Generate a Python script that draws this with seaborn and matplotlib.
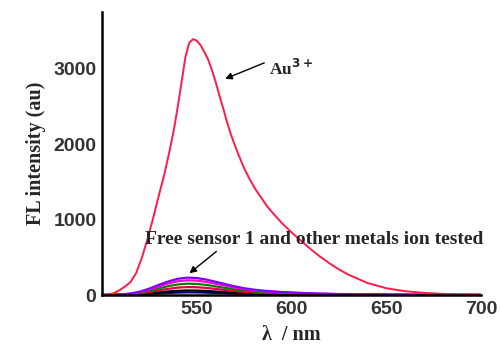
import matplotlib
matplotlib.use("Agg")
import matplotlib.pyplot as plt
import seaborn as sns
import pandas as pd
from matplotlib.ticker import MultipleLocator

# Au3+ spectrum (finer sampling around the peak)
au_wl = [500, 503, 506, 509, 512, 515, 518, 521, 524, 527, 530, 533, 536, 538, 540, 542,
         544, 546, 548, 550, 552, 554, 556, 558, 560, 562, 564, 566, 568, 570, 572, 575,
         578, 581, 584, 587, 590, 595, 600, 605, 610, 615, 620, 625, 630, 640, 650, 660,
         670, 680, 690, 700]
au3 = [0, 5, 22, 60, 110, 170, 290, 490, 740, 1020, 1320, 1610, 1950, 2200, 2500, 2820,
       3150, 3340, 3390, 3370, 3310, 3220, 3120, 2980, 2820, 2640, 2470, 2290, 2130, 1990,
       1860, 1680, 1530, 1400, 1290, 1180, 1090, 950, 830, 720, 610, 510, 420, 340, 270,
       160, 90, 50, 28, 15, 8, 3]

# free sensor and other metal ions
wavelength = list(range(500, 701, 5))
ion_violet = [0, 2, 8, 20, 45, 85, 135, 180, 215, 230, 225, 205, 175, 145, 115, 90, 72, 58,
              48, 40, 34, 28, 23, 19, 16, 13, 11, 9, 7, 6, 5, 4, 3, 3, 2, 2, 1, 1, 1, 1, 1]
ion_magenta = [0, 2, 7, 17, 38, 72, 115, 153, 183, 195, 191, 174, 149, 123, 98, 77, 61, 49,
               41, 34, 29, 24, 20, 16, 14, 11, 9, 8, 6, 5, 4, 3, 3, 2, 2, 2, 1, 1, 1, 1, 1]
ion_green = [0, 1, 5, 13, 29, 55, 88, 118, 140, 150, 147, 134, 114, 95, 75, 59, 47, 38, 31,
             26, 22, 18, 15, 12, 10, 8, 7, 6, 5, 4, 3, 3, 2, 2, 1, 1, 1, 1, 1, 1, 0]
ion_red = [0, 1, 4, 9, 20, 39, 62, 82, 98, 105, 103, 94, 80, 66, 53, 41, 33, 26, 22, 18, 15,
           13, 10, 9, 7, 6, 5, 4, 3, 3, 2, 2, 1, 1, 1, 1, 1, 0, 0, 0, 0]
ion_black = [0, 0, 2, 5, 12, 22, 35, 47, 56, 60, 59, 54, 46, 38, 30, 24, 19, 15, 12, 10, 9,
             7, 6, 5, 4, 3, 3, 2, 2, 2, 1, 1, 1, 1, 0, 0, 0, 0, 0, 0, 0]
ion_navy = [0, 0, 1, 3, 7, 13, 20, 27, 32, 35, 34, 31, 27, 22, 18, 14, 11, 9, 7, 6, 5, 4, 3,
            3, 2, 2, 2, 1, 1, 1, 1, 1, 0, 0, 0, 0, 0, 0, 0, 0, 0]

series = [
    ("navy", wavelength, ion_navy, "#000080"),
    ("black", wavelength, ion_black, "#000000"),
    ("red", wavelength, ion_red, "#e0003c"),
    ("green", wavelength, ion_green, "#008000"),
    ("magenta", wavelength, ion_magenta, "#ff00cc"),
    ("violet", wavelength, ion_violet, "#7f00ff"),
    ("Au3+", au_wl, au3, "#ff1a4a"),
]

rows = []
for name, wls, vals, _ in series:
    for w, v in zip(wls, vals):
        rows.append({"wl": w, "I": v, "s": name})
df = pd.DataFrame(rows)
palette = {name: c for name, _, _, c in series}

sns.set_style("white")
plt.rcParams["font.family"] = ["Liberation Serif", "DejaVu Serif"]

fig = plt.figure(figsize=(5.01, 3.49), dpi=100)
ax = fig.add_axes([0.2036, 0.1547, 0.7565, 0.811])

sns.lineplot(data=df, x="wl", y="I", hue="s", palette=palette, ax=ax, legend=False,
             linewidth=1.6, sort=False)
ax.lines[-1].set_linewidth(1.4)

ax.set_xlim(500, 700)
ax.set_ylim(0, 3750)
ax.xaxis.set_minor_locator(MultipleLocator(25))
ax.yaxis.set_major_locator(MultipleLocator(1000))
ax.yaxis.set_minor_locator(MultipleLocator(500))
ax.set_xticks([550, 600, 650, 700])

for s in ["top", "right"]:
    ax.spines[s].set_visible(False)
for s in ["left", "bottom"]:
    ax.spines[s].set_linewidth(1.8)
    ax.spines[s].set_color("black")

ax.tick_params(which="major", direction="in", length=5, width=1.5, colors="black",
               labelsize=14, labelcolor="#333333", pad=4)
ax.tick_params(which="minor", direction="in", length=3, width=1.2, colors="black")
for lab in ax.get_xticklabels() + ax.get_yticklabels():
    lab.set_family(["Liberation Sans", "DejaVu Sans"])
    lab.set_fontweight("bold")

ax.set_xlabel("λ  / nm", fontsize=14.5, fontweight="bold", labelpad=5)
ax.set_ylabel("FL intensity (au)", fontsize=14.5, fontweight="bold", labelpad=5)

ax.annotate("", xy=(563.6, 2850), xytext=(587, 3090),
            arrowprops=dict(arrowstyle="-|>", color="black", lw=1.0, mutation_scale=10))
ax.text(588, 2990, "Au$^{\\mathbf{3+}}$", fontsize=12.5, fontweight="bold",
        va="center", ha="left")

ax.text(522.5, 740, "Free sensor 1 and other metals ion tested", fontsize=14,
        fontweight="bold", va="center", ha="left")
ax.annotate("", xy=(545, 265), xytext=(561.5, 600),
            arrowprops=dict(arrowstyle="-|>", color="black", lw=1.0, mutation_scale=10))

fig.savefig("out.png", dpi=100, facecolor="white")
